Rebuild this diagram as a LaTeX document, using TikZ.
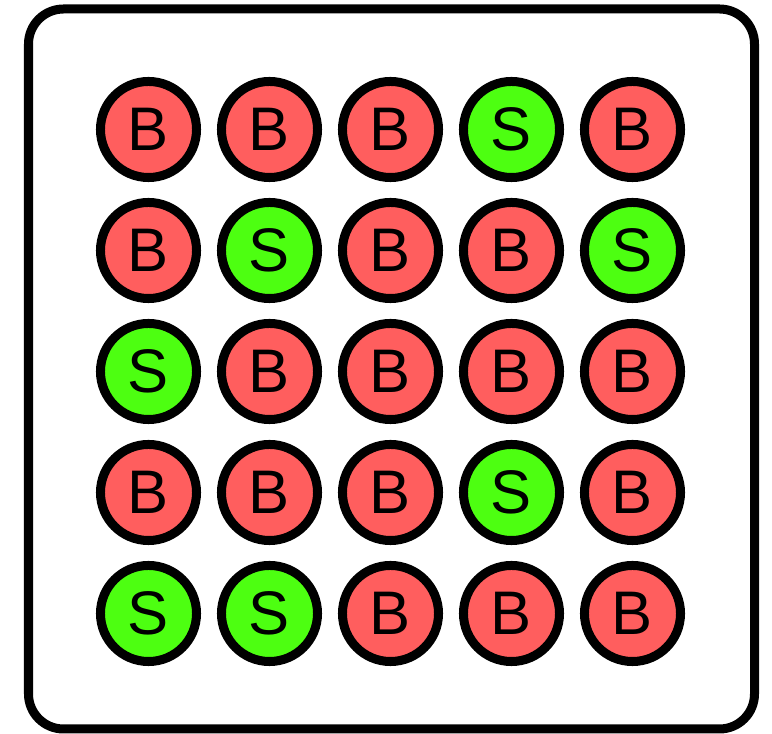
\documentclass[tikz,border=0pt]{standalone}
\usepackage{fontspec}
\setmainfont{Liberation Sans}
\definecolor{fillB}{RGB}{255,94,94}
\definecolor{fillS}{RGB}{77,255,17}
\begin{document}
\begin{tikzpicture}[x=0.01cm,y=-0.01cm,
    ball/.style={circle,draw,line width=0.09cm,minimum size=0.96cm,inner sep=0pt,
      font=\fontsize{17.5}{20}\selectfont}]
  \useasboundingbox (0,0) rectangle (772,734);
  \draw [line width=0.09cm,rounded corners=0.35cm] (28.5,9) rectangle (754.5,729);
  \foreach \row/\kinds in {1/{B,B,B,S,B},2/{B,S,B,B,S},3/{S,B,B,B,B},4/{B,B,B,S,B},5/{S,S,B,B,B}} {
    \foreach \kind [count=\col] in \kinds {
      \node [ball,fill=fill\kind] (ball-\row-\col) at ({27.5+121*\col},{8.5+121*\row}) {\kind};
    }
  }
\end{tikzpicture}
\end{document}
